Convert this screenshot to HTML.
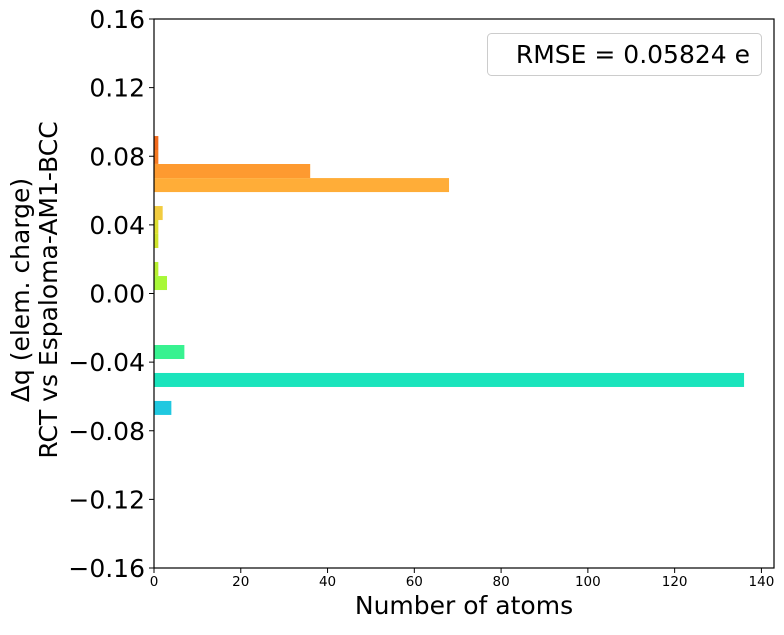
<!DOCTYPE html>
<html><head><meta charset="utf-8"><style>
body{margin:0;background:#fff;}
svg{font-family:"DejaVu Sans","Liberation Sans",sans-serif;}
</style></head><body>
<svg id="c" width="784" height="630" xmlns="http://www.w3.org/2000/svg"></svg>
<script>
const binCenters=[0.0877,0.0796,0.0714,0.0632,0.0469,0.0388,0.0306,0.0143,0.0061,-0.0341,-0.0504,-0.0667];
const counts=[1,1,36,68,2,1,1,1,3,7,136,4];
const barColors=["#f26a1c","#f67a22","#fe9a30","#ffad38","#f2cc40","#dee030","#d0e42c","#b8f030","#a8f838","#38f290","#1ae4bc","#20c8e0"];
const yTicks=[0.16,0.12,0.08,0.04,0.00,-0.04,-0.08,-0.12,-0.16];
const yTickLabels=["0.16","0.12","0.08","0.04","0.00","\u22120.04","\u22120.08","\u22120.12","\u22120.16"];
const xTicks=[0,20,40,60,80,100,120,140];
const binWidth=0.00816;
const L=154,R=774,T=19,B=568,xMax=142.9;
const xs=v=>L+v/xMax*(R-L);
const ys=v=>T+(0.16-v)/0.32*(B-T);
const s=document.getElementById('c');const NS="http://www.w3.org/2000/svg";
function mk(t,a,txt){const e=document.createElementNS(NS,t);for(const k in a)e.setAttribute(k,a[k]);if(txt!==undefined)e.textContent=txt;s.appendChild(e);return e;}
binCenters.forEach((c,i)=>{const y0=ys(c+binWidth/2),y1=ys(c-binWidth/2);
const r=mk('rect',{x:L,y:y0,width:xs(counts[i])-L,height:y1-y0,fill:barColors[i]});

});
const f=mk('rect',{x:L,y:T,width:R-L,height:B-T,fill:'none',stroke:'#000','stroke-width':1.2});

yTicks.forEach((v,i)=>{const y=ys(v);mk('line',{x1:L-5,x2:L,y1:y,y2:y,stroke:'#000'});
const t=mk('text',{x:L-9,y:y+9,'text-anchor':'end','font-size':25},yTickLabels[i]);
});
xTicks.forEach(v=>{const x=xs(v);mk('line',{x1:x,x2:x,y1:B,y2:B+5,stroke:'#000'});
const t=mk('text',{x:x,y:B+18,'text-anchor':'middle','font-size':13.5},String(v));
});
let t=mk('text',{x:464,y:614,'text-anchor':'middle','font-size':25},'Number of atoms');

t=mk('text',{transform:'translate(29,290) rotate(-90)','text-anchor':'middle','font-size':25},'\u0394q (elem. charge)');

t=mk('text',{transform:'translate(57,290) rotate(-90)','text-anchor':'middle','font-size':25},'RCT vs Espaloma-AM1-BCC');

const lg=mk('rect',{x:487.5,y:33.5,width:274,height:42,rx:4,fill:'#fff',stroke:'#ccc'});

t=mk('text',{x:750,y:63,'text-anchor':'end','font-size':25},'RMSE = 0.05824 e');

</script>
</body></html>
